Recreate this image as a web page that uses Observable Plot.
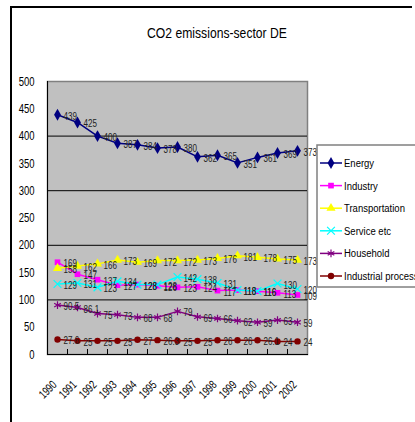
<!DOCTYPE html>
<html><head><meta charset="utf-8">
<script src="https://cdn.jsdelivr.net/npm/d3@7"></script>
<script src="https://cdn.jsdelivr.net/npm/@observablehq/plot@0.6"></script>
<style>
html,body{margin:0;padding:0;background:#fff;}
#wrap{position:relative;width:415px;height:422px;overflow:hidden;font-family:"Liberation Sans",Arial,sans-serif;}
#wrap > svg{position:absolute;left:0;top:0;}
</style></head><body><div id="wrap"></div>
<script>
const title = "CO2 emissions-sector DE";
const years = ["1990","1991","1992","1993","1994","1995","1996","1997","1998","1999","2000","2001","2002"];
const energy = [439,425,400,387,384,378,380,362,365,351,361,369,373];
const industry = [169,147,137,127,128,126,123,124,117,118,116,113,109];
const transportation = [158,162,166,173,169,172,172,173,176,181,178,175,173];
const service = [129,131,123,134,128,128,142,138,131,118,116,130,120];
const household = [90.5,86.1,75,73,68,68,79,69,66,62,59,63,59];
const industrialProcess = [27.6,25,25,25,27,26.3,25,25,26,26,26.1,24,24];
const seriesNames = ["Energy","Industry","Transportation","Service etc","Household","Industrial process"];
const yTicks = [0,50,100,150,200,250,300,350,400,450,500];
const gridValues = [100,200,300,400];

const FONT = '"Liberation Sans",Arial,sans-serif';
const SQUEEZE = 0.73;
const styles = [
  {color:"#000080", symbol:"diamond", filled:true, r:3.6},
  {color:"#FF00FF", symbol:"square", filled:true, r:3.2},
  {color:"#FFFF00", symbol:"triangle", filled:true, r:3.4},
  {color:"#00FFFF", symbol:"times", filled:false, r:3.6},
  {color:"#800080", symbol:"asterisk", filled:false, r:3.6},
  {color:"#800000", symbol:"circle", filled:true, r:3.2}
];
const valueLists = [energy, industry, transportation, service, household, industrialProcess];
const series = seriesNames.map((name,i)=>({name, values:valueLists[i], ...styles[i]}));
const rowsFor = s => years.map((y,i)=>({year:y, value:s.values[i], series:s.name}));

const marks = [
  Plot.frame({fill:"#C0C0C0", stroke:"#808080", strokeWidth:1.5}),
  Plot.ruleY(gridValues, {stroke:"#000", strokeWidth:1}),
  Plot.frame({anchor:"left", stroke:"#000"}),
  Plot.frame({anchor:"bottom", stroke:"#000"}),
  Plot.tickX(years.slice(0,-1), {x:d=>d, dx:10, insetTop:268, stroke:"#000"}),
  Plot.axisY({ticks:yTicks, tickSize:0, tickPadding:13, fontSize:13, fontFamily:FONT, label:null, fill:"#000"}),
  Plot.text(years, {x:d=>d, frameAnchor:"bottom", rotate:-45, textAnchor:"end", dy:31, dx:0, fontSize:12, fontFamily:FONT, fill:"#000"})
];
for (const s of series) {
  const rows = rowsFor(s);
  marks.push(Plot.line(rows, {x:"year", y:"value", stroke:s.color, strokeWidth:1.5}));
  marks.push(Plot.dot(rows, s.filled
    ? {x:"year", y:"value", symbol:s.symbol, r:s.r, fill:s.color, stroke:"none"}
    : {x:"year", y:"value", symbol:s.symbol, r:s.r, stroke:s.color, strokeWidth:1.2, fill:"none"}));
}
for (const s of series) {
  marks.push(Plot.text(rowsFor(s), {x:"year", y:"value", text:d=>String(d.value), dx:6, dy:1.5, textAnchor:"start", fontSize:11, fontFamily:FONT, fill:"#222"}));
}

const chart = Plot.plot({
  width:415, height:422,
  marginLeft:47, marginRight:108, marginTop:81, marginBottom:68,
  style:{fontFamily:FONT, background:"transparent", color:"#000"},
  x:{type:"point", domain:years, padding:0.5, axis:null},
  y:{domain:[0,500]},
  marks
});
document.getElementById("wrap").appendChild(chart);

// narrow the glyphs horizontally around each text's anchor (reference uses a narrow gothic face)
function squeeze(root, s) {
  root.querySelectorAll("text").forEach(t => {
    const tr = t.getAttribute("transform");
    if (tr) t.setAttribute("transform", tr + ` scale(${s},1)`);
    else {
      const x = +t.getAttribute("x") || 0, y = +t.getAttribute("y") || 0;
      t.removeAttribute("x"); t.removeAttribute("y");
      t.setAttribute("transform", `translate(${x},${y}) scale(${s},1)`);
    }
  });
}
squeeze(chart, SQUEEZE);

// overlay: outer border, title, legend
const ov = d3.select("#wrap").append("svg").attr("width",415).attr("height",422).style("font-family", FONT);
ov.append("path").attr("d","M11,422V7H412").attr("fill","none").attr("stroke","#000").attr("stroke-width",2);
const tt = ov.append("text").attr("text-anchor","middle").style("font-size","15px").attr("fill","#000").text(title);
const tw = tt.node().getComputedTextLength();
tt.attr("transform", `translate(217,38) scale(${140/tw},1)`);

const lg = ov.append("g").attr("transform","translate(317,145)");
lg.append("rect").attr("x",0).attr("y",0).attr("width",120).attr("height",142).attr("fill","#fff").attr("stroke","#808080").attr("stroke-width",1.5);
const symMap = {diamond:d3.symbolDiamond, square:d3.symbolSquare, triangle:d3.symbolTriangle, times:d3.symbolTimes, asterisk:d3.symbolAsterisk, circle:d3.symbolCircle};
let legScale = 1;
series.forEach((s,i)=>{
  const y = 18 + i*22.6;
  const g = lg.append("g").attr("transform",`translate(0,${y})`);
  g.append("line").attr("x1",3).attr("x2",25).attr("y1",0).attr("y2",0).attr("stroke",s.color).attr("stroke-width",1.5);
  g.append("path").attr("transform","translate(14,0)")
    .attr("d", d3.symbol(symMap[s.symbol], Math.PI*s.r*s.r)())
    .attr("fill", s.filled ? s.color : "none").attr("stroke", s.filled ? "none" : s.color).attr("stroke-width",1.2);
  const t = g.append("text").attr("class","lgt").attr("dy","0.35em").style("font-size","11.5px").attr("fill","#000").text(s.name);
  if (s.name === "Transportation") legScale = 61 / t.node().getComputedTextLength();
});
lg.selectAll("text.lgt").attr("transform", `translate(27,0) scale(${legScale},1)`);
</script></body></html>
